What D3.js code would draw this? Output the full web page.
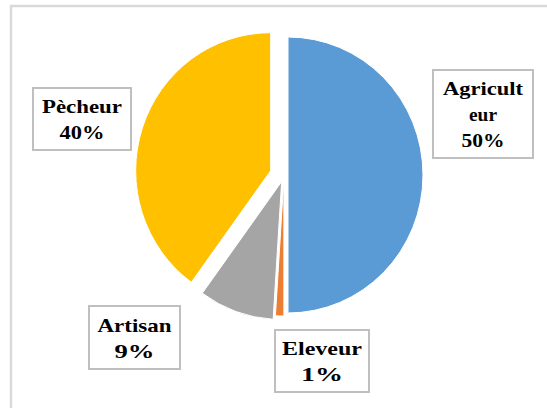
<!DOCTYPE html>
<html>
<head>
<meta charset="utf-8">
<script src="https://cdn.jsdelivr.net/npm/d3@7.9.0/dist/d3.min.js"></script>
<style>
  body { margin: 0; background: #fff; }
  svg { display: block; }
</style>
</head>
<body>
<div id="chart"></div>
<script>
// data
const categories = ['Agriculteur', 'Eleveur', 'Artisan', 'Pècheur'];
const values = [50, 1, 9, 40];
const labelLines = [['Agricult', 'eur'], ['Eleveur'], ['Artisan'], ['Pècheur']];
const colors = ['#5B9BD5', '#ED7D31', '#A5A5A5', '#FFC000'];

// layout (pixels)
const width = 547, height = 408;
const cx = 284, cy = 175, r = 138, sx = 135 / 138;
const explode = [4, 3, 7, 14];
const boxes = [
  { x: 433, y: 70, w: 100, h: 88, tw: [80, 28, 43] },
  { x: 275, y: 330, w: 94, h: 62, tw: [80, 42] },
  { x: 89, y: 306, w: 91, h: 63, tw: [74, 40] },
  { x: 33, y: 88, w: 98, h: 62, tw: [80, 45] }
];

const svg = d3.select('#chart').append('svg')
  .attr('width', width)
  .attr('height', height);

// chart area border
svg.append('rect')
  .attr('x', 11).attr('y', 6)
  .attr('width', 600).attr('height', 450)
  .attr('fill', 'none')
  .attr('stroke', '#d9d9d9')
  .attr('stroke-width', 2.5);

const pie = d3.pie().sort(null).value(d => d);
const arcs = pie(values);
const arc = d3.arc().innerRadius(0).outerRadius(r);

svg.append('g').selectAll('path')
  .data(arcs)
  .join('path')
  .attr('transform', (d, i) => {
    const mid = (d.startAngle + d.endAngle) / 2;
    const dx = explode[i] * Math.sin(mid);
    const dy = -explode[i] * Math.cos(mid);
    return `translate(${cx + dx},${cy + dy}) scale(${sx},1)`;
  })
  .attr('d', arc)
  .attr('fill', (d, i) => colors[i])
  .attr('stroke', '#fff')
  .attr('stroke-width', 1)
  .attr('vector-effect', 'non-scaling-stroke');

// data callouts
const lbl = svg.append('g')
  .selectAll('g')
  .data(categories)
  .join('g');

lbl.append('rect')
  .attr('x', (d, i) => boxes[i].x)
  .attr('y', (d, i) => boxes[i].y)
  .attr('width', (d, i) => boxes[i].w)
  .attr('height', (d, i) => boxes[i].h)
  .attr('fill', '#fff')
  .attr('stroke', '#bfbfbf')
  .attr('stroke-width', 2);

lbl.each(function (d, i) {
  const b = boxes[i];
  const lines = labelLines[i].concat([values[i] + '%']);
  const mx = b.x + b.w / 2;
  const my = b.y + b.h / 2;
  const first = my - (lines.length - 1) * 13 + 7;
  d3.select(this).selectAll('text')
    .data(lines)
    .join('text')
    .attr('x', mx)
    .attr('y', (t, j) => first + j * 26)
    .attr('text-anchor', 'middle')
    .style('font-family', '"Liberation Serif", "Times New Roman", serif')
    .style('font-weight', 'bold')
    .style('font-size', '19px')
    .attr('fill', '#000')
    .attr('textLength', (t, j) => b.tw[j])
    .attr('lengthAdjust', 'spacingAndGlyphs')
    .text(t => t);
});
</script>
</body>
</html>
